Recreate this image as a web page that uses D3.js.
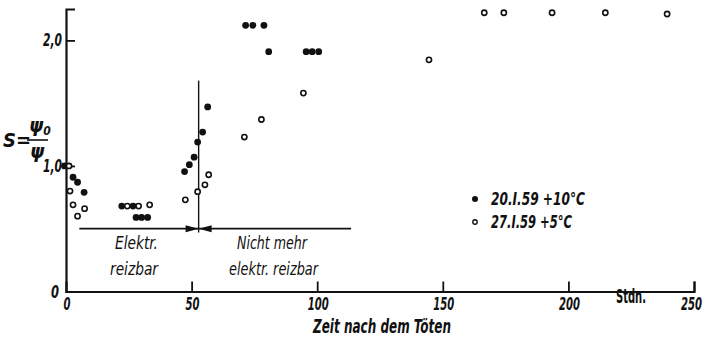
<!DOCTYPE html>
<html>
<head>
<meta charset="utf-8">
<script src="https://cdn.jsdelivr.net/npm/d3@7"></script>
<style>
  body { margin: 0; background: #fff; }
  svg text { font-family: "DejaVu Sans Condensed", "Liberation Sans Narrow", sans-serif; font-style: italic; font-weight: bold; fill: #111; }
</style>
</head>
<body>
<svg id="chart" width="706" height="338"></svg>
<script>
// series 1: 20.I.59 +10°C (filled)
const filledT = [-0.6, 2.8, 4.6, 7.2, 22.2, 26.7, 27.9, 30.1, 32.5, 47.2, 49.1, 51.0, 52.4, 54.4, 56.4, 71.5, 74.4, 78.8, 80.7, 95.6, 98.0, 100.6];
const filledS = [1.0, 0.91, 0.87, 0.79, 0.68, 0.68, 0.59, 0.59, 0.59, 0.955, 1.01, 1.07, 1.19, 1.27, 1.47, 2.12, 2.12, 2.12, 1.91, 1.91, 1.91, 1.91];
// series 2: 27.I.59 +5°C (open)
const openT = [1.2, 1.6, 2.8, 7.4, 4.6, 24.4, 28.9, 33.3, 47.5, 52.4, 55.3, 56.8, 71.0, 77.8, 94.5, 144.5, 166.5, 174.3, 193.5, 214.7, 239.3];
const openS = [1.0, 0.80, 0.69, 0.66, 0.60, 0.68, 0.68, 0.69, 0.73, 0.795, 0.85, 0.93, 1.23, 1.37, 1.58, 1.845, 2.22, 2.22, 2.22, 2.22, 2.21];

const xTicks = [0, 50, 100, 150, 200, 250];
const yTicks = [0, 1, 2];
const yTickLabels = ["0", "1,0", "2,0"];
const legendLabels = ["20.I.59 +10°C", "27.I.59 +5°C"];

// boundary between "elektr. reizbar" and "nicht mehr"
const border = {t: 52.8, s0: 0.47, s1: 1.68};
const spanLine = {t0: 5.3, t1: 113.5, s: 0.5};

const svg = d3.select("#chart");

const x = d3.scaleLinear().domain([0, 250]).range([66, 694]);
const y = d3.scaleLinear().domain([0, 2.25]).range([291.5, 9]);

// squeeze a text horizontally to a given width
function squeeze(sel, w) {
  sel.each(function() {
    const n = this.getComputedTextLength();
    const tw = typeof w == "function" ? w(d3.select(this).datum()) : w;
    if (n > tw) {
      d3.select(this).attr("textLength", tw).attr("lengthAdjust", "spacingAndGlyphs");
    }
  });
}

// axes
const xAxis = d3.axisBottom(x).tickValues(xTicks.slice(1)).tickSize(-10).tickFormat("");
svg.append("g")
  .attr("transform", "translate(0," + y(0) + ")")
  .call(xAxis)
  .call(g => g.select(".domain").attr("stroke", "#111").attr("stroke-width", 2.2))
  .call(g => g.selectAll(".tick line").attr("stroke", "#111").attr("stroke-width", 1.8));

const yAxis = d3.axisLeft(y).tickValues([1, 2]).tickSize(-9).tickFormat("");
svg.append("g")
  .attr("transform", "translate(" + x(0) + ",0)")
  .call(yAxis)
  .call(g => g.select(".domain").attr("stroke", "#111").attr("stroke-width", 2.2))
  .call(g => g.selectAll(".tick line").attr("stroke", "#111").attr("stroke-width", 1.8));

// tick labels
svg.selectAll(".xl").data(xTicks).enter().append("text")
  .attr("class", "xl")
  .attr("x", d => d == 250 ? 702 : x(d) + 1)
  .attr("y", 310)
  .attr("text-anchor", d => d == 250 ? "end" : "middle")
  .attr("font-size", 18)
  .text(d => d)
  .call(squeeze, d => String(d).length * 7);

svg.selectAll(".yl").data(yTicks).enter().append("text")
  .attr("class", "yl")
  .attr("x", (d, i) => i == 0 ? x(0) - 7 : x(0) - 4)
  .attr("y", d => y(d) + 6)
  .attr("text-anchor", "end")
  .attr("font-size", 18)
  .text((d, i) => yTickLabels[i])
  .call(squeeze, d => d == 0 ? 8 : 19);

svg.append("text")
  .attr("x", 616).attr("y", 303)
  .attr("font-size", 19)
  .style("font-style", "normal").style("font-weight", "600")
  .text("Stdn.")
  .call(squeeze, 30);

svg.append("text")
  .attr("x", 313).attr("y", 333)
  .attr("font-size", 19)
  .text("Zeit nach dem Töten")
  .call(squeeze, 138);

// y label  S = psi0 / psi
const yl = svg.append("g");
yl.append("text").attr("x", 3).attr("y", 147).attr("font-size", 20).text("S=");
yl.append("text").attr("x", 29).attr("y", 132).attr("font-size", 20).text("ψ")
  .append("tspan").attr("font-size", 12).attr("dy", 3).text("0");
yl.append("line").attr("x1", 27).attr("x2", 48).attr("y1", 140).attr("y2", 140)
  .attr("stroke", "#111").attr("stroke-width", 1.6);
yl.append("text").attr("x", 30).attr("y", 158).attr("font-size", 20).text("ψ");

// separator lines with arrows
svg.append("line")
  .attr("x1", x(border.t)).attr("x2", x(border.t))
  .attr("y1", y(border.s1)).attr("y2", y(border.s0))
  .attr("stroke", "#111").attr("stroke-width", 1.4);
svg.append("line")
  .attr("x1", x(spanLine.t0)).attr("x2", x(spanLine.t1))
  .attr("y1", y(spanLine.s)).attr("y2", y(spanLine.s))
  .attr("stroke", "#111").attr("stroke-width", 1.8);

const ax = x(border.t), ay = y(spanLine.s);
svg.append("path")
  .attr("d", `M${ax},${ay} L${ax - 13},${ay - 3.5} L${ax - 13},${ay + 3.5} Z`)
  .attr("fill", "#111");
svg.append("path")
  .attr("d", `M${ax},${ay} L${ax + 13},${ay - 3.5} L${ax + 13},${ay + 3.5} Z`)
  .attr("fill", "#111");

// region labels
const regionText = [
  {t: "Elektr.", x0: 115, w: 43, cy: 249},
  {t: "reizbar", x0: 110, w: 48, cy: 275},
  {t: "Nicht mehr", x0: 237, w: 70, cy: 249},
  {t: "elektr. reizbar", x0: 229, w: 89, cy: 275}
];
svg.selectAll(".rt").data(regionText).enter().append("text")
  .attr("class", "rt")
  .attr("x", d => d.x0).attr("y", d => d.cy)
  .attr("font-size", 18)
  .style("font-weight", "normal")
  .text(d => d.t)
  .call(squeeze, d => d.w);

// data points
const filled = filledT.map((t, i) => ({t: t, s: filledS[i]}));
const open = openT.map((t, i) => ({t: t, s: openS[i]}));

svg.selectAll(".f").data(filled).enter().append("circle")
  .attr("cx", d => x(d.t)).attr("cy", d => y(d.s))
  .attr("r", 3.4).attr("fill", "#111");

svg.selectAll(".o").data(open).enter().append("circle")
  .attr("cx", d => x(d.t)).attr("cy", d => y(d.s))
  .attr("r", 2.6).attr("fill", "#fff")
  .attr("stroke", "#111").attr("stroke-width", 1.6);

// legend
const lg = svg.append("g").attr("transform", "translate(475,199)");
lg.append("circle").attr("cx", 0).attr("cy", 0).attr("r", 3).attr("fill", "#111");
lg.append("circle").attr("cx", 0).attr("cy", 23).attr("r", 2.2).attr("fill", "#fff")
  .attr("stroke", "#111").attr("stroke-width", 1.4);
lg.selectAll("text").data(legendLabels).enter().append("text")
  .attr("x", 16).attr("y", (d, i) => 6 + i * 23)
  .attr("font-size", 18)
  .text(d => d)
  .call(squeeze, d => d == legendLabels[0] ? 94 : 81);
</script>
</body>
</html>
